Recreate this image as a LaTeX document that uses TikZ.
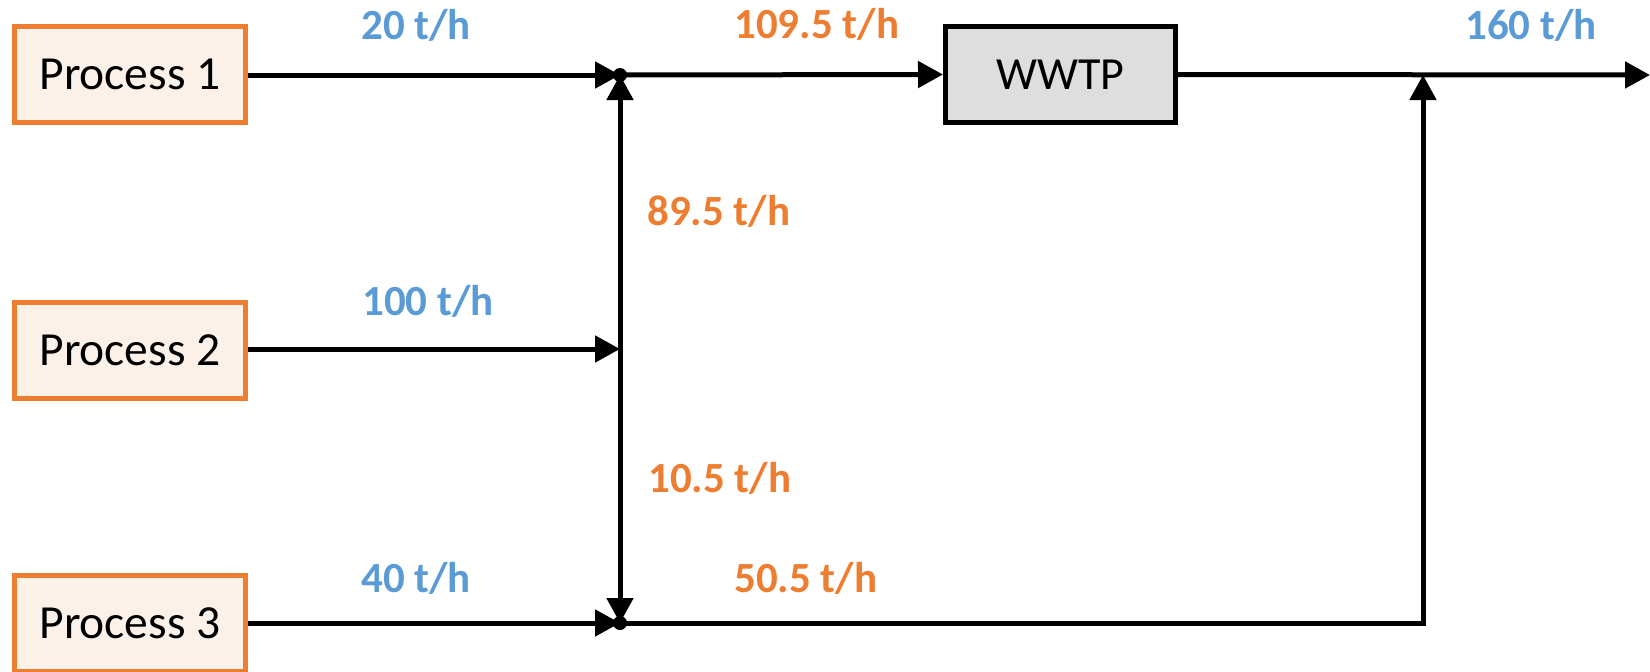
\documentclass[tikz,border=0pt]{standalone}
\usepackage{fontspec}
\setmainfont{Carlito}
\usetikzlibrary{arrows.meta}
\definecolor{procorange}{HTML}{ED7D31}
\definecolor{procfill}{HTML}{FCF1E9}
\definecolor{flowblue}{HTML}{5B9BD5}
\definecolor{wwtpfill}{HTML}{DEDEDE}
\tikzset{
  procbox/.style={draw=procorange, fill=procfill, line width=5pt, minimum width=231pt, minimum height=96pt, inner sep=0pt, font=\fontsize{47.5}{54}\selectfont},
  plantbox/.style={draw=black, fill=wwtpfill, line width=5pt, minimum width=230pt, minimum height=96pt, inner sep=0pt, font=\fontsize{46}{52}\selectfont},
  flow/.style={line width=5pt, -{Triangle[length=25pt,width=26pt]}},
  junction/.style={circle, fill=black, inner sep=0pt, minimum size=14pt},
  bluelbl/.style={text=flowblue, font=\fontsize{43}{50}\selectfont\bfseries, anchor=base west, inner sep=0pt},
  orangelbl/.style={text=procorange, font=\fontsize{43}{50}\selectfont\bfseries, anchor=base west, inner sep=0pt}
}
\begin{document}
\begin{tikzpicture}[x=1pt,y=-1pt]
\useasboundingbox (0,0) rectangle (1650,672);
\node[procbox] (p1) at (130,74.5) {Process 1};
\node[procbox] (p2) at (130,350.5) {Process 2};
\node[procbox] (p3) at (130,623.5) {Process 3};
\node[plantbox] (wwtp) at (1060.5,74.5) {WWTP};
\coordinate (j1) at (620,75);
\coordinate (j2) at (620,349);
\coordinate (j3) at (620,623);
\coordinate (j4) at (1423,623);
\coordinate (j5) at (1423,75);
\coordinate (out) at (1650,75);
% connectors
\draw[flow] (p1.east |- j1) -- (j1);
\draw[flow] (p2.east |- j2) -- (j2);
\draw[flow] (p3.east |- j3) -- (j3);
\draw[flow] (j2) -- (j1);
\draw[flow] (j2) -- (j3);
\draw[flow] (j1) -- (wwtp.west);
\draw[flow] (wwtp.east) -- (out);
\draw[flow] (j3) -- (j4) -- (j5);
\node[junction] (d1) at (j1) {};
\node[junction] (d3) at (j3) {};
% labels
\node[bluelbl] (l20) at (361,39) {20 t/h};
\node[orangelbl] (l109) at (734,38) {109.5 t/h};
\node[bluelbl] (l160) at (1465,39) {160 t/h};
\node[orangelbl] (l895) at (647,225) {89.5 t/h};
\node[bluelbl] (l100) at (362,315) {100 t/h};
\node[orangelbl] (l105) at (648,492) {10.5 t/h};
\node[bluelbl] (l40) at (361,592) {40 t/h};
\node[orangelbl] (l505) at (734,592) {50.5 t/h};
\end{tikzpicture}
\end{document}
